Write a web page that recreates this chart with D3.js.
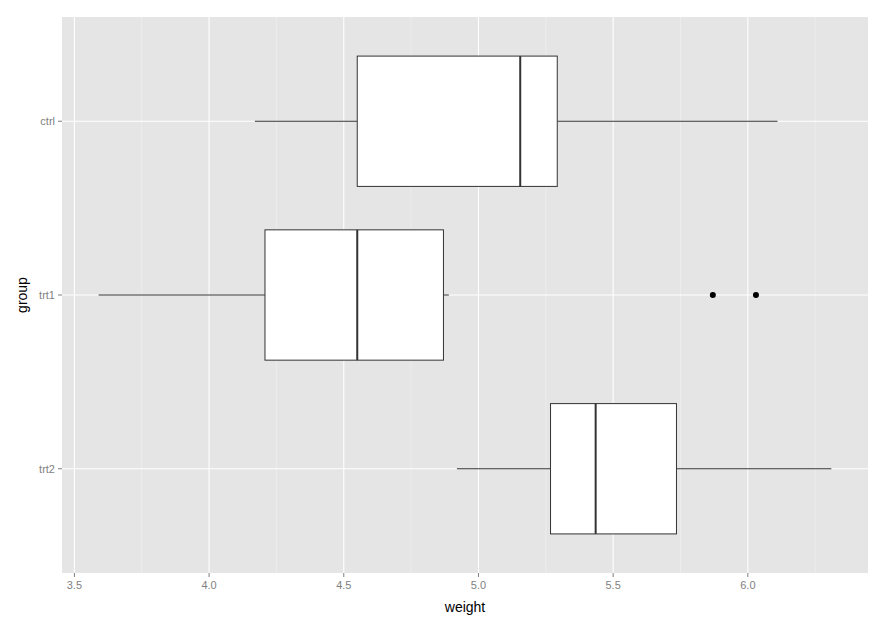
<!DOCTYPE html>
<html><head><meta charset="utf-8">
<script src="https://cdn.jsdelivr.net/npm/d3@7"></script>
<style>body{margin:0;background:#fff}</style></head>
<body><svg id="c" width="889" height="629"></svg>
<script>
const groups = ["ctrl","trt1","trt2"];
const mins = [4.17,3.59,4.92];
const q1s = [4.55,4.2075,5.2675];
const medians = [5.155,4.55,5.435];
const q3s = [5.2925,4.87,5.735];
const maxs = [6.11,4.89,6.31];
const outliers = [[],[5.87,6.03],[]];
const xTicks = [3.5,4.0,4.5,5.0,5.5,6.0];
const xMinor = [3.75,4.25,4.75,5.25,5.75,6.25];

const svg = d3.select("#c");
const L=62,R=868,T=17,B=573;
const x = d3.scaleLinear().domain([3.454,6.446]).range([L,R]);
const y = d3.scalePoint().domain(groups).range([T,B]).padding(0.6);
const bw = y.step()*0.75;

svg.append("rect").attr("x",L).attr("y",T).attr("width",R-L).attr("height",B-T).attr("fill","#e5e5e5");
svg.selectAll(".mn").data(xMinor).enter().append("line")
 .attr("x1",d=>x(d)).attr("x2",d=>x(d)).attr("y1",T).attr("y2",B).attr("stroke","#f2f2f2").attr("stroke-width",0.6);
svg.selectAll(".mj").data(xTicks).enter().append("line")
 .attr("x1",d=>x(d)).attr("x2",d=>x(d)).attr("y1",T).attr("y2",B).attr("stroke","#fff").attr("stroke-width",1.1);
svg.selectAll(".gy").data(groups).enter().append("line")
 .attr("x1",L).attr("x2",R).attr("y1",d=>y(d)).attr("y2",d=>y(d)).attr("stroke","#fff").attr("stroke-width",1.1);

groups.forEach((g,i)=>{
  const cy=y(g);
  const G=svg.append("g");
  G.append("line").attr("x1",x(mins[i])).attr("x2",x(q1s[i])).attr("y1",cy).attr("y2",cy).attr("stroke","#333");
  G.append("line").attr("x1",x(q3s[i])).attr("x2",x(maxs[i])).attr("y1",cy).attr("y2",cy).attr("stroke","#333");
  G.append("rect").attr("x",x(q1s[i])).attr("width",x(q3s[i])-x(q1s[i])).attr("y",cy-bw/2).attr("height",bw)
   .attr("fill","#fff").attr("stroke","#333");
  G.append("line").attr("x1",x(medians[i])).attr("x2",x(medians[i])).attr("y1",cy-bw/2).attr("y2",cy+bw/2).attr("stroke","#333").attr("stroke-width",2);
  outliers[i].forEach(o=>G.append("circle").attr("cx",x(o)).attr("cy",cy).attr("r",3).attr("fill","#000"));
});

svg.selectAll(".xt").data(xTicks).enter().append("line")
 .attr("x1",d=>x(d)).attr("x2",d=>x(d)).attr("y1",B).attr("y2",B+4).attr("stroke","#7f7f7f");
svg.selectAll(".xl").data(xTicks).enter().append("text")
 .attr("x",d=>x(d)).attr("y",B+16).attr("text-anchor","middle").attr("fill","#7f7f7f")
 .attr("font-family","Liberation Sans, Arial").attr("font-size",11).text(d=>d.toFixed(1));
svg.selectAll(".yt").data(groups).enter().append("line")
 .attr("x1",L-4).attr("x2",L).attr("y1",d=>y(d)).attr("y2",d=>y(d)).attr("stroke","#7f7f7f");
svg.selectAll(".yl").data(groups).enter().append("text")
 .attr("x",L-7).attr("y",d=>y(d)+4).attr("text-anchor","end").attr("fill","#7f7f7f")
 .attr("font-family","Liberation Sans, Arial").attr("font-size",11).text(d=>d);
svg.append("text").attr("x",(L+R)/2).attr("y",612).attr("text-anchor","middle")
 .attr("font-family","Liberation Sans, Arial").attr("font-size",14).text("weight");
svg.append("text").attr("transform",`translate(27,${(T+B)/2}) rotate(-90)`).attr("text-anchor","middle")
 .attr("font-family","Liberation Sans, Arial").attr("font-size",14).text("group");
</script></body></html>
